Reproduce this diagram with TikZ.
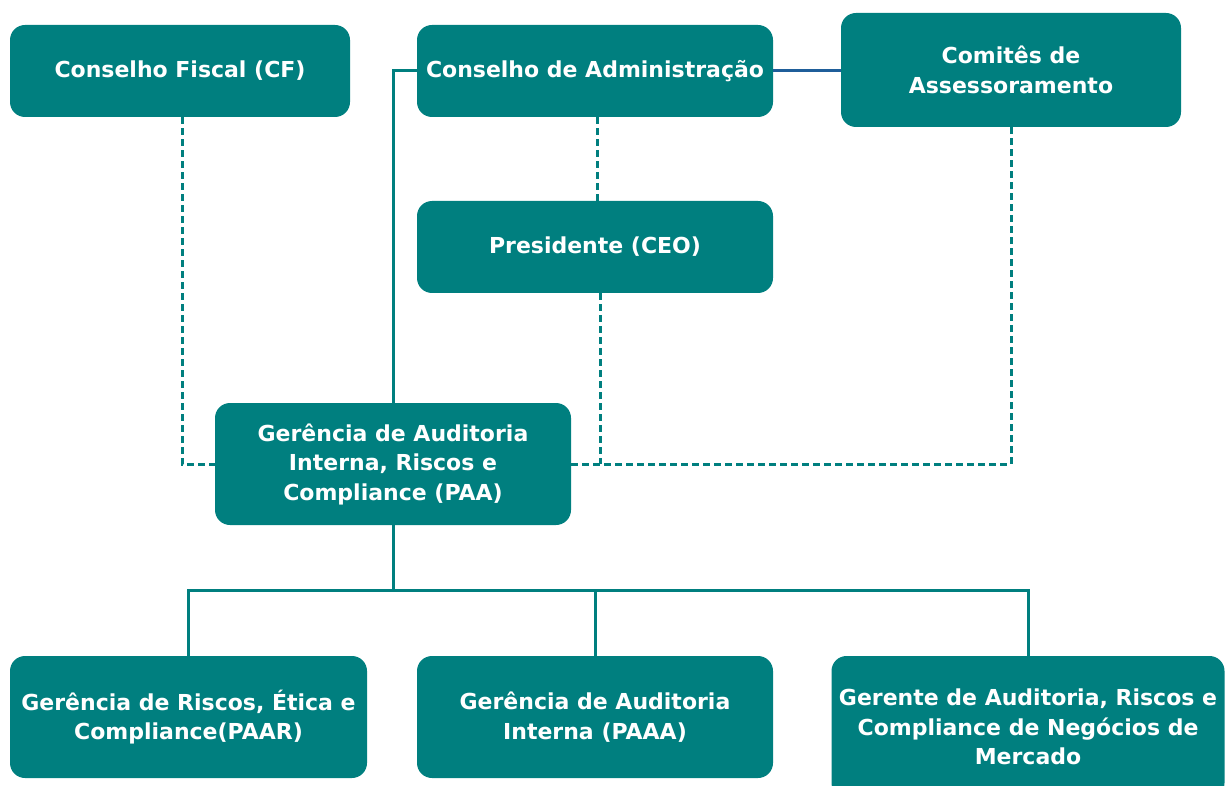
\documentclass[tikz,border=0pt]{standalone}
\usepackage{fontspec}
\setmainfont{DejaVu Sans}
\definecolor{teal0}{HTML}{007F7F}
\definecolor{blueline}{HTML}{1F5E9A}
\begin{document}
\begin{tikzpicture}[x=1pt,y=-1pt,
  box/.style={fill=teal0,rounded corners=15pt,text=white,align=center,inner sep=0pt,
    font=\fontsize{22}{29.5}\selectfont\bfseries},
  solidline/.style={draw=teal0,line width=3pt},
  blueconn/.style={draw=blueline,line width=3pt},
  dashline/.style={draw=teal0,line width=3pt,dash pattern=on 7pt off 4pt}]
\useasboundingbox (0,0) rectangle (1226,786);
\node[box,minimum width=340pt,minimum height=92pt] (cf) at (180,71) {Conselho Fiscal (CF)};
\node[box,minimum width=356pt,minimum height=92pt] (ca) at (595,71) {Conselho de Administração};
\node[box,minimum width=340pt,minimum height=114pt] (ct) at (1011,70) {Comitês de\\Assessoramento};
\node[box,minimum width=356pt,minimum height=92pt] (pres) at (595,247) {Presidente (CEO)};
\node[box,minimum width=356pt,minimum height=122pt] (paa) at (393,464) {Gerência de Auditoria\\Interna, Riscos e\\Compliance (PAA)};
\node[box,minimum width=357pt,minimum height=122pt] (paar) at (188.5,717) {Gerência de Riscos, Ética e\\Compliance(PAAR)};
\node[box,minimum width=356pt,minimum height=122pt] (paaa) at (595,717) {Gerência de Auditoria\\Interna (PAAA)};
\node[box,minimum width=393pt,minimum height=142pt] (ger) at (1028,727) {Gerente de Auditoria, Riscos e\\Compliance de Negócios de\\Mercado};
\coordinate (bus) at (393,590);
% solid connectors
\draw[solidline] (ca.west) -| (paa.north);
\draw[blueconn] (ca.east) -- (ca.east -| ct.west);
\draw[solidline] (paa.south) -- (bus);
\draw[solidline] (paar.north) |- (bus) -| (ger.north);
\draw[solidline] (paaa.north) -- (paaa.north |- bus);
% dashed connectors
\draw[dashline] ([xshift=2pt]ca.south) -- ([xshift=2pt]pres.north);
\draw[dashline] ([xshift=2pt]cf.south) |- (paa.west);
\draw[dashline] ([xshift=5pt]pres.south) -- ([xshift=5pt]pres.south |- paa.east);
\draw[dashline] (paa.east) -| (ct.south);
\end{tikzpicture}
\end{document}
